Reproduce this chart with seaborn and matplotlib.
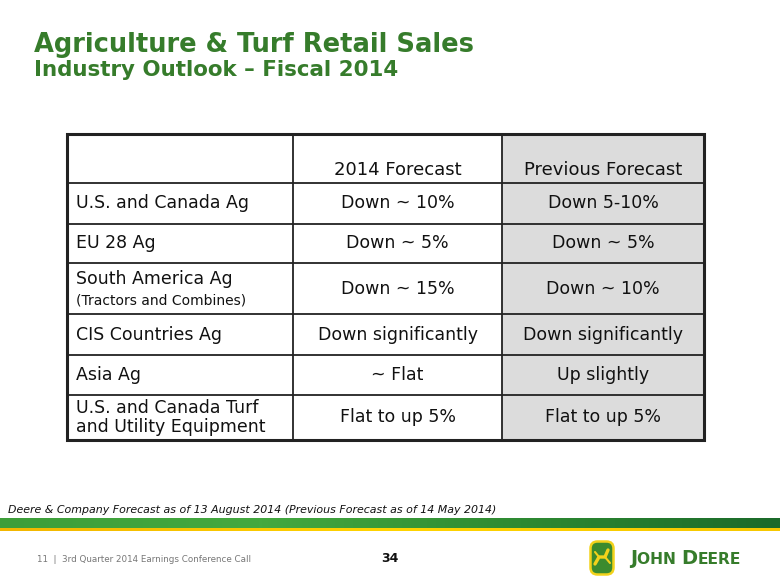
import numpy as np
import seaborn as sns
import matplotlib
import matplotlib.pyplot as plt
from matplotlib.patches import Rectangle, FancyBboxPatch
from matplotlib.colors import LinearSegmentedColormap

sns.set_style("white")
plt.rcParams['font.family'] = ['DejaVu Sans']

# table content
header = ["", "2014 Forecast", "Previous Forecast"]
regions = ["U.S. and Canada Ag", "EU 28 Ag", "South America Ag",
           "CIS Countries Ag", "Asia Ag",
           "U.S. and Canada Turf\nand Utility Equipment"]
region_notes = ["", "", "(Tractors and Combines)", "", "", ""]
forecast_2014 = ["Down ~ 10%", "Down ~ 5%", "Down ~ 15%",
                 "Down significantly", "~ Flat", "Flat to up 5%"]
previous_forecast = ["Down 5-10%", "Down ~ 5%", "Down ~ 10%",
                     "Down significantly", "Up slightly", "Flat to up 5%"]

green = "#367C2B"
W, H = 780, 585

fig = plt.figure(figsize=(7.8, 5.85), dpi=100)
fig.patch.set_facecolor("white")

# titles
fig.text(34 / W, 1 - 52 / H, "Agriculture & Turf Retail Sales", color=green,
         fontsize=18.5, fontweight="bold", ha="left", va="baseline")
fig.text(34 / W, 1 - 76 / H, "Industry Outlook \u2013 Fiscal 2014", color=green,
         fontsize=15.4, fontweight="bold", ha="left", va="baseline")

# table axes, units are pixels inside the table
col_x = [0, 226, 435, 637]
row_y = [0, 49, 90, 129, 180, 221, 261, 306]
ax = fig.add_axes([67 / W, 1 - 440 / H, 637 / W, 306 / H])
ax.set_xlim(0, col_x[-1])
ax.set_ylim(row_y[-1], 0)
ax.axis("off")

# shaded previous-forecast column
ax.add_patch(Rectangle((col_x[2], 0), col_x[3] - col_x[2], row_y[-1],
                       facecolor="#DCDCDC", edgecolor="none", zorder=0))

# grid lines
for y in row_y[1:-1]:
    ax.plot([0, col_x[-1]], [y, y], color="#222222", lw=1.3, zorder=2)
for x in col_x[1:-1]:
    ax.plot([x, x], [0, row_y[-1]], color="#222222", lw=1.3, zorder=2)
ax.add_patch(Rectangle((0, 0), col_x[-1], row_y[-1], fill=False,
                       edgecolor="#222222", lw=2.2, zorder=3, clip_on=False))

txt = dict(fontsize=12.5, color="#111111")

# header row
for j in (1, 2):
    ax.text((col_x[j] + col_x[j + 1]) / 2, 36, header[j], ha="center",
            va="center", fontsize=13, color="#111111")

# body rows
for i, (reg, note, f14, fprev) in enumerate(zip(regions, region_notes,
                                                forecast_2014, previous_forecast)):
    yc = (row_y[i + 1] + row_y[i + 2]) / 2
    if note:
        ax.text(9, yc - 10, reg, ha="left", va="center", **txt)
        ax.text(9, yc + 12, note, ha="left", va="center", fontsize=10,
                color="#111111")
    else:
        ax.text(9, yc, reg, ha="left", va="center", linespacing=1.05, **txt)
    ax.text((col_x[1] + col_x[2]) / 2, yc, f14, ha="center", va="center", **txt)
    ax.text((col_x[2] + col_x[3]) / 2, yc, fprev, ha="center", va="center", **txt)

# footnote
fig.text(8 / W, 1 - 510 / H,
         "Deere & Company Forecast as of 13 August 2014 (Previous Forecast as of 14 May 2014)",
         fontsize=7.9, style="italic", color="#111111", ha="left", va="center")

# green band with yellow underline
band = fig.add_axes([0, 1 - 528 / H, 1, 10 / H])
cmap = LinearSegmentedColormap.from_list("band", ["#3D9E3A", "#44A940", "#2E8A32", "#1B6A2A"])
band.imshow(np.linspace(0, 1, 256)[None, :], aspect="auto", cmap=cmap)
band.axis("off")
yel = fig.add_axes([0, 1 - 531 / H, 1, 3 / H])
cmap_y = LinearSegmentedColormap.from_list("yel", ["#F2B600", "#FFD400", "#F6C800"])
yel.imshow(np.linspace(0, 1, 256)[None, :], aspect="auto", cmap=cmap_y)
yel.axis("off")

# footer
fig.text(37 / W, 1 - 560 / H, "11  |  3rd Quarter 2014 Earnings Conference Call",
         fontsize=6.3, color="#777777", ha="left", va="center")
fig.text(390 / W, 1 - 558 / H, "34", fontsize=9, fontweight="bold",
         color="#111111", ha="center", va="center")

# logo badge
logo = fig.add_axes([589 / W, 1 - 576 / H, 26 / W, 36 / H])
logo.set_xlim(0, 26)
logo.set_ylim(0, 36)
logo.axis("off")
logo.add_patch(FancyBboxPatch((1.5, 1.5), 23, 33, boxstyle="round,pad=0,rounding_size=7",
                              facecolor="#3B8B2E", edgecolor="#F2D21B", lw=1.8))
logo.plot([6, 10, 16, 19], [12, 19, 19, 26], color="#F2D21B", lw=2.4,
          solid_capstyle="round")
logo.plot([10, 6], [19, 24], color="#F2D21B", lw=1.5)
logo.plot([16, 21], [19, 13], color="#F2D21B", lw=1.5)

# small-caps brand name, pieces placed one after another
renderer = fig.canvas.get_renderer()
xpos = 630
for piece, size in [("J", 14), ("OHN ", 11.2), ("D", 14), ("EERE", 11.2)]:
    t = fig.text(xpos / W, 1 - 564 / H, piece, fontsize=size, fontweight="bold",
                 color=green, ha="left", va="baseline")
    xpos += t.get_window_extent(renderer).width
fig.savefig("out.png", dpi=100, facecolor="white")
